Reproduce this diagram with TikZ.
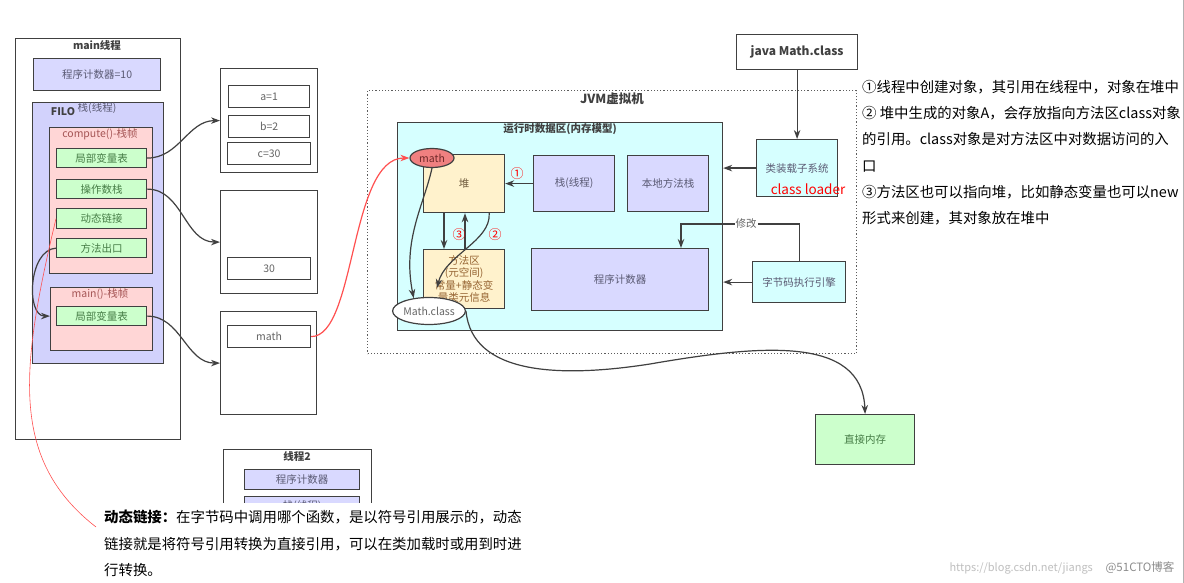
\documentclass[tikz,border=0pt]{standalone}
\usepackage{fontspec}
\setmainfont{Noto Sans CJK SC}
\usetikzlibrary{arrows.meta}
\usetikzlibrary{positioning}
\usetikzlibrary{shapes.geometric}

\definecolor{linec}{RGB}{64,64,64}
\definecolor{lav}{RGB}{217,217,255}
\definecolor{lavdeep}{RGB}{210,210,252}
\definecolor{lavtext}{RGB}{90,90,115}
\definecolor{grn}{RGB}{204,255,204}
\definecolor{grntext}{RGB}{70,125,70}
\definecolor{pinkf}{RGB}{255,214,214}
\definecolor{pinktext}{RGB}{165,85,85}
\definecolor{cyanf}{RGB}{214,255,255}
\definecolor{yel}{RGB}{255,242,204}
\definecolor{heaptext}{RGB}{110,90,60}
\definecolor{mtext}{RGB}{150,100,50}
\definecolor{mathred}{RGB}{240,128,128}
\definecolor{mathtext}{RGB}{110,40,40}
\definecolor{valtext}{RGB}{100,100,100}
\definecolor{redl}{RGB}{255,80,80}

\newcommand{\boxfont}{\fontsize{10.5}{12.4}\selectfont}
\newcommand{\notefont}{\fontsize{14.4}{26.3}\selectfont}

\tikzset{
  pbox/.style={draw=linec,line width=1.2pt,inner sep=0pt,anchor=north west},
  sz/.style 2 args={minimum width=#1,minimum height=#2},
  lavbox/.style={pbox,fill=lav,text=lavtext,font=\boxfont},
  grnbox/.style={pbox,fill=grn,text=grntext,font=\boxfont},
  pinkbox/.style={pbox,fill=pinkf},
  valbox/.style={pbox,fill=white,text=valtext,font=\boxfont},
  cyanbox/.style={pbox,fill=cyanf,text=lavtext,font=\boxfont},
  yelbox/.style={pbox,fill=yel,font=\boxfont},
  boxtitle/.style={font=\bfseries\boxfont,text=linec},
  framelbl/.style={font=\boxfont,text=pinktext},
  oval/.style={ellipse,draw=linec,line width=1.2pt,inner sep=0pt,font=\boxfont},
  flow/.style={->,draw=linec,line width=1.2pt},
  redflow/.style={->,draw=redl,line width=1.2pt},
  numlbl/.style={text=red,font=\fontsize{13}{13}\selectfont},
  note/.style={anchor=north west,align=left,inner sep=0pt,font=\notefont}
}

\begin{document}
\begin{tikzpicture}[x=1pt,y=-1pt,>={Stealth[length=9pt,width=6.5pt]}]
    \useasboundingbox (0,0) rectangle (1184,583);
    \fill[white] (0,0) rectangle (1184,583);

    % main thread
    \node[pbox,sz={165}{401}] (mainth) at (15,38) {};
    \node[boxtitle] (mainlbl) at (97,45) {main线程};
    \node[lavbox,sz={127}{32}] (pcten) at (33,58) {程序计数器=10};
    \node[pbox,fill=lavdeep,sz={131}{261}] (filo) at (32,102) {};
    \node[boxtitle] (filolbl) at (63,112) {FILO};
    \node[font=\boxfont,text=lavtext] (stacklbl) at (97,108) {栈(线程)};

    % compute() frame
    \node[pinkbox,sz={103}{146}] (compf) at (49,127) {};
    \node[framelbl] (complbl) at (100,134) {compute()-栈帧};
    \node[grnbox,sz={90}{19}] (lvt) at (56,148) {局部变量表};
    \node[grnbox,sz={90}{19}] (opst) at (56,179) {操作数栈};
    \node[grnbox,sz={90}{20}] (dtlj) at (56,208) {动态链接};
    \node[grnbox,sz={90}{19}] (ffck) at (56,238) {方法出口};

    % main() frame
    \node[pinkbox,sz={102}{63}] (mainf) at (50,287) {};
    \node[framelbl] (mainflbl) at (100,294) {main()-栈帧};
    \node[grnbox,sz={90}{19}] (mlvt) at (56,306) {局部变量表};

    % values
    \node[pbox,sz={97}{104}] (vala) at (220,68) {};
    \node[valbox,sz={81}{22}] (va) at (228,85) {a=1};
    \node[valbox,sz={81}{22}] (vb) at (228,115) {b=2};
    \node[valbox,sz={83}{22}] (vc) at (227,142) {c=30};
    \node[pbox,sz={97}{103}] (valb) at (220,190) {};
    \node[valbox,sz={83}{22}] (vthirty) at (227,257) {30};
    \node[pbox,sz={96}{103}] (valc) at (220,311) {};
    \node[valbox,sz={83}{22}] (vmath) at (227,325) {math};

    % thread 2, cut off by the note
    \begin{scope}
        \clip (200,440) rectangle (400,502);
        \node[pbox,sz={148}{80}] (thtwo) at (223,449) {};
        \node[boxtitle] (thtwolbl) at (297,456) {线程2};
        \node[lavbox,sz={115}{20}] (thtwopc) at (244,469) {程序计数器};
        \node[lavbox,sz={115}{20}] (thtwost) at (244,496) {栈(线程)};
    \end{scope}

    % JVM
    \node[pbox,draw=linec!85,dotted,sz={489}{263}] (jvm) at (367,90) {};
    \node[font=\bfseries\fontsize{12.5}{14}\selectfont,text=linec] (jvmlbl) at (612,99) {JVM虚拟机};
    \node[pbox,fill=cyanf,sz={325}{208}] (rtda) at (397,122) {};
    \node[boxtitle] (rtdalbl) at (560,129) {运行时数据区(内存模型)};
    \node[yelbox,text=heaptext,sz={81}{58}] (heap) at (423,154) {堆};
    \node[lavbox,sz={81}{56}] (stk) at (533,155) {栈(线程)};
    \node[lavbox,sz={81}{56}] (nstk) at (627,155) {本地方法栈};
    \node[yelbox,text=mtext,align=center,sz={81}{59}] (mth) at (423,249) {方法区\\(元空间)\\常量+静态变\\量类元信息};
    \node[lavbox,sz={177}{62}] (pcbig) at (531,248) {程序计数器};
    \node[oval,fill=mathred,text=mathtext,minimum width=44,minimum height=19] (mobj) at (432,158) {math};
    \node[oval,fill=white,text=valtext,minimum width=71,minimum height=27] (mcls) at (429,311) {Math.class};

    % loader and engine
    \node[pbox,fill=white,text=linec,font=\bfseries\fontsize{12}{14}\selectfont,sz={121}{35}] (jmc) at (736,34) {java Math.class};
    \node[cyanbox,sz={81}{57}] (cls) at (756,139) {类装载子系统};
    \node[text=red,font=\fontsize{13.5}{15}\selectfont] (clsldr) at (808,189) {class loader};
    \node[cyanbox,sz={93}{41}] (bce) at (752,261) {字节码执行引擎};
    \node[pbox,fill=grn,text=grntext,font=\boxfont,sz={99}{50}] (zjnc) at (815,414) {直接内存};

    % arrows from the frames
    \draw[flow] (lvt.east) to[out=0,in=180] (vala.west);
    \draw[flow] (opst.east) to[out=0,in=180] (valb.west);
    \draw[flow] (mlvt.east) to[out=0,in=180] (valc.west);
    \draw[flow] (ffck.west) .. controls (28,250) and (26,316) .. (mainf.west |- mlvt.west);
    \draw[redflow] (vmath.east) .. controls +(45,0) and +(-60,0) .. (mobj.west);

    % inside the JVM
    \coordinate (clsref) at (437,288);
    \coordinate (modc) at (681,224);
    \draw[flow] (jmc) -- (cls);
    \draw[flow] (cls) -- (cls -| rtda.east);
    \draw[flow] (bce) -- (bce -| rtda.east);
    \draw[flow] (bce.north) |- (modc) -- (modc |- pcbig.north);
    \node[fill=white,inner sep=1pt,font=\boxfont,text=valtext] (modlbl) at (746,224) {修改};
    \draw[flow] (stk) -- (heap);
    \draw[flow] ([xshift=21pt]heap.south west) -- ([xshift=21pt]mth.north west);
    \draw[flow] ([xshift=42pt]mth.north west) -- ([xshift=42pt]heap.south west);
    \draw[flow] ([xshift=-16pt]heap.south east) .. controls +(2,28) and +(8,-33) .. (clsref);
    \draw[flow] (mobj.south) .. controls (424,205) and (402,240) .. (mcls.140);
    \draw[flow] (mcls.east) .. controls (472,375) and (560,378) .. (650,364)
        .. controls (760,345) and (862,335) .. (zjnc.north);
    \node[numlbl] (none) at (517,174) {①};
    \node[numlbl] (ntwo) at (495,235) {②};
    \node[numlbl] (nthree) at (459,235) {③};

    % notes
    \node[note] (rnote) at (862,80) {①线程中创建对象，其引用在线程中，对象在堆中\\② 堆中生成的对象A，会存放指向方法区class对象\\的引用。class对象是对方法区中对数据访问的入\\口\\③方法区也可以指向堆，比如静态变量也可以new\\形式来创建，其对象放在堆中};
    \node[note] (dnote) at (104,510) {\textbf{动态链接：}在字节码中调用哪个函数，是以符号引用展示的，动态\\链接就是将符号引用转换为直接引用，可以在类加载时或用到时进\\行转换。};
    \coordinate (dynend) at (96,527);
    \draw[redl,line width=0.6pt] (dtlj.west) .. controls (20,370) and (10,460) .. (dynend);

    % watermark and edge
    \node[anchor=west,text=black!25,font=\fontsize{11}{12}\selectfont] (wurl) at (946,568) {https://blog.csdn.net/jiangs};
    \node[anchor=east,text=black!45,font=\fontsize{11.5}{12}\selectfont] (wsite) at (1178,568) {@51CTO博客};
    \draw[black!30,line width=1pt] (1183,0) -- (1183,583);

\end{tikzpicture}
\end{document}
